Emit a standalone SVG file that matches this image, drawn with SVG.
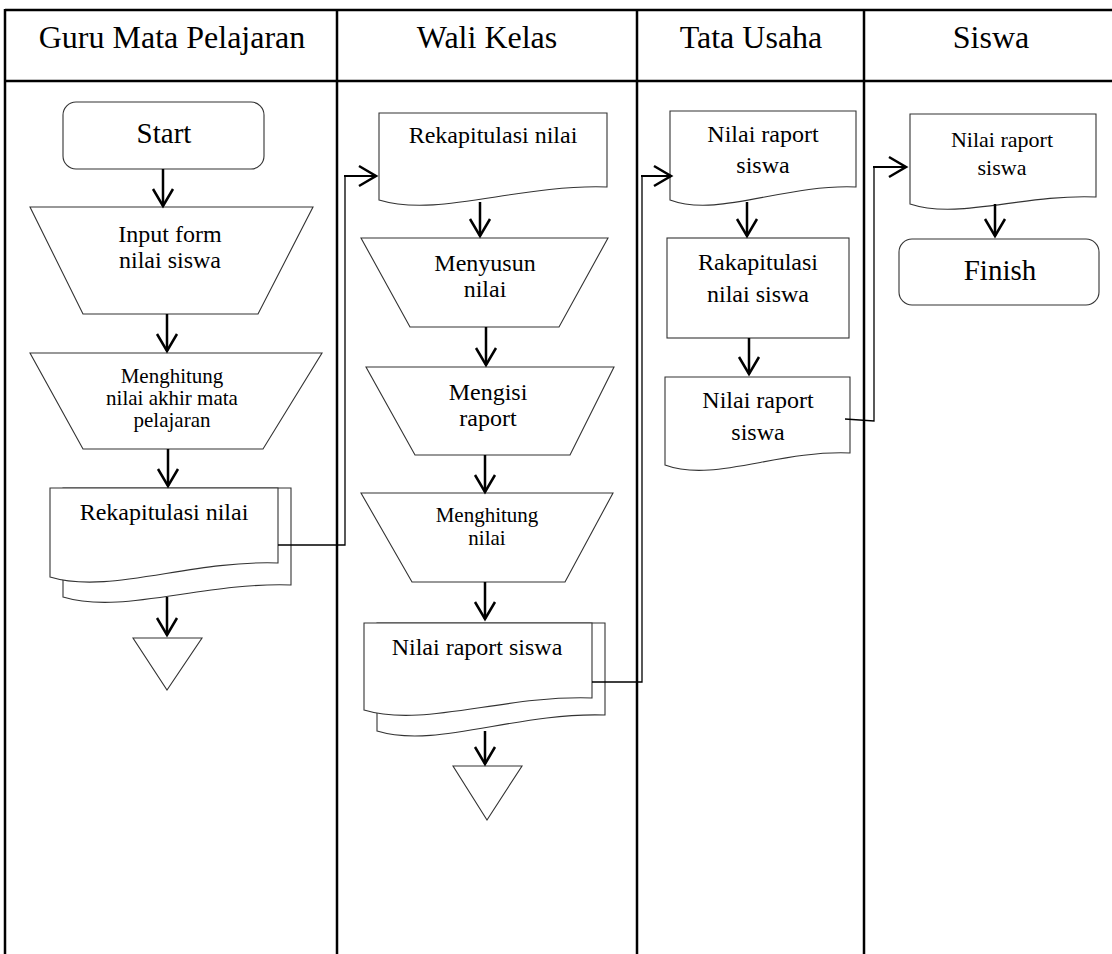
<svg xmlns="http://www.w3.org/2000/svg" width="1112" height="954" viewBox="0 0 1112 954">
  <defs>
    <marker id="ah" markerUnits="userSpaceOnUse" markerWidth="24" markerHeight="24" viewBox="-20 -12 22 24" refX="0" refY="0" orient="auto" overflow="visible">
      <path d="M-17,-10 L0,0 L-17,10" fill="none" stroke="#000" stroke-width="2.5"/>
    </marker>
  </defs>
  <style>
    text { font-family: "Liberation Serif", "Times New Roman", serif; fill: #000; text-anchor: middle; }
    .hdr { font-size: 32px; }
    .big { font-size: 29px; }
    .t24 { font-size: 24px; }
    .t21 { font-size: 21px; }
    .t22 { font-size: 22px; }
    .shape { fill: #fff; stroke: #333; stroke-width: 1.1; }
    .grid { stroke: #000; stroke-width: 2.5; fill: none; }
    .flow { stroke: #000; stroke-width: 2.5; fill: none; marker-end: url(#ah); }
    .link { stroke: #000; stroke-width: 1.3; fill: none; }
    .linkend { stroke: #000; stroke-width: 2; fill: none; marker-end: url(#ah); }
  </style>
  <rect width="1112" height="954" fill="#fff"/>

  <!-- swimlane table -->
  <g id="lanes">
    <line class="grid" x1="5" y1="10" x2="1112" y2="10"/>
    <line class="grid" x1="5" y1="81" x2="1112" y2="81"/>
    <line class="grid" x1="5" y1="9" x2="5" y2="954"/>
    <line class="grid" x1="337" y1="9" x2="337" y2="954"/>
    <line class="grid" x1="637" y1="9" x2="637" y2="954"/>
    <line class="grid" x1="864" y1="9" x2="864" y2="954"/>
    <text class="hdr" x="172" y="48">Guru Mata Pelajaran</text>
    <text class="hdr" x="487" y="48">Wali Kelas</text>
    <text class="hdr" x="751" y="48">Tata Usaha</text>
    <text class="hdr" x="991" y="48">Siswa</text>
  </g>

  <!-- Guru Mata Pelajaran -->
  <g id="start">
    <rect class="shape" x="63" y="102" width="201" height="67" rx="13"/>
    <text class="big" x="164" y="143">Start</text>
  </g>
  <g id="input-form">
    <polygon class="shape" points="30,207 313,207 258,314 83,314"/>
    <text class="t24" x="170" y="242">Input form</text>
    <text class="t24" x="170" y="268">nilai siswa</text>
  </g>
  <g id="hitung-akhir">
    <polygon class="shape" points="30,353 322,353 263,449 83,449"/>
    <text class="t21" x="172" y="383">Menghitung</text>
    <text class="t21" x="172" y="405">nilai akhir mata</text>
    <text class="t21" x="172" y="427">pelajaran</text>
  </g>
  <g id="rekap-guru">
    <path class="shape" d="M63,488 H291 V585 C202,582 122,615 63,597 Z"/>
    <path class="shape" d="M50,488 H278 V563 C189,560 109,595 50,577 Z"/>
    <text class="t24" x="164" y="520">Rekapitulasi nilai</text>
  </g>
  <g id="offpage-guru">
    <polygon class="shape" points="133,638 202,638 167,690"/>
  </g>

  <!-- Wali Kelas -->
  <g id="rekap-wali">
    <path class="shape" d="M379,113 H607 V187 C518,184 438,218 379,200 Z"/>
    <text class="t24" x="493" y="143">Rekapitulasi nilai</text>
  </g>
  <g id="menyusun">
    <polygon class="shape" points="361,238 608,238 559,327 410,327"/>
    <text class="t24" x="485" y="271">Menyusun</text>
    <text class="t24" x="485" y="297">nilai</text>
  </g>
  <g id="mengisi">
    <polygon class="shape" points="366,367 614,367 570,455 415,455"/>
    <text class="t24" x="488" y="400">Mengisi</text>
    <text class="t24" x="488" y="426">raport</text>
  </g>
  <g id="hitung-nilai">
    <polygon class="shape" points="361,493 613,493 565,582 412,582"/>
    <text class="t21" x="487" y="522">Menghitung</text>
    <text class="t21" x="487" y="545">nilai</text>
  </g>
  <g id="raport-wali">
    <path class="shape" d="M377,623 H605 V715 C516,712 436,749 377,731 Z"/>
    <path class="shape" d="M364,623 H592 V698 C503,695 423,728 364,710 Z"/>
    <text class="t24" x="477" y="655">Nilai raport siswa</text>
  </g>
  <g id="offpage-wali">
    <polygon class="shape" points="453,766 522,766 487,820"/>
  </g>

  <!-- Tata Usaha -->
  <g id="raport-tu-in">
    <path class="shape" d="M670,111 H856 V187 C783,184 718,218 670,200 Z"/>
    <text class="t24" x="763" y="142">Nilai raport</text>
    <text class="t24" x="763" y="173">siswa</text>
  </g>
  <g id="rakapitulasi">
    <rect class="shape" x="667" y="238" width="182" height="100"/>
    <text class="t24" x="758" y="270">Rakapitulasi</text>
    <text class="t24" x="758" y="302">nilai siswa</text>
  </g>
  <g id="raport-tu-out">
    <path class="shape" d="M665,377 H850 V453 C778,450 713,483 665,465 Z"/>
    <text class="t24" x="758" y="408">Nilai raport</text>
    <text class="t24" x="758" y="440">siswa</text>
  </g>

  <!-- Siswa -->
  <g id="raport-siswa">
    <path class="shape" d="M910,114 H1096 V197 C1023,194 958,220 910,204 Z"/>
    <text class="t22" x="1002" y="147">Nilai raport</text>
    <text class="t22" x="1002" y="175">siswa</text>
  </g>
  <g id="finish">
    <rect class="shape" x="899" y="239" width="200" height="66" rx="13"/>
    <text class="big" x="1000" y="280">Finish</text>
  </g>

  <!-- connectors -->
  <g id="connectors">
    <line class="flow" x1="163" y1="169" x2="163" y2="206"/>
    <line class="flow" x1="167" y1="314" x2="167" y2="351"/>
    <line class="flow" x1="168" y1="449" x2="168" y2="486"/>
    <line class="flow" x1="167" y1="597" x2="167" y2="635"/>
    <path class="link" d="M278,545 H345 V176"/>
    <line class="linkend" x1="344" y1="176" x2="376" y2="176"/>

    <line class="flow" x1="480" y1="202" x2="480" y2="236"/>
    <line class="flow" x1="486" y1="327" x2="486" y2="365"/>
    <line class="flow" x1="485" y1="455" x2="485" y2="492"/>
    <line class="flow" x1="485" y1="582" x2="485" y2="619"/>
    <line class="flow" x1="485" y1="731" x2="485" y2="764"/>
    <path class="link" d="M592,682 H642 V176"/>
    <line class="linkend" x1="641" y1="176" x2="671" y2="176"/>

    <line class="flow" x1="747" y1="202" x2="747" y2="236"/>
    <line class="flow" x1="749" y1="338" x2="749" y2="374"/>
    <path class="link" d="M845,419 L874,421 V167"/>
    <line class="linkend" x1="873" y1="167" x2="906" y2="167"/>

    <line class="flow" x1="995" y1="204" x2="995" y2="236"/>
  </g>
</svg>
